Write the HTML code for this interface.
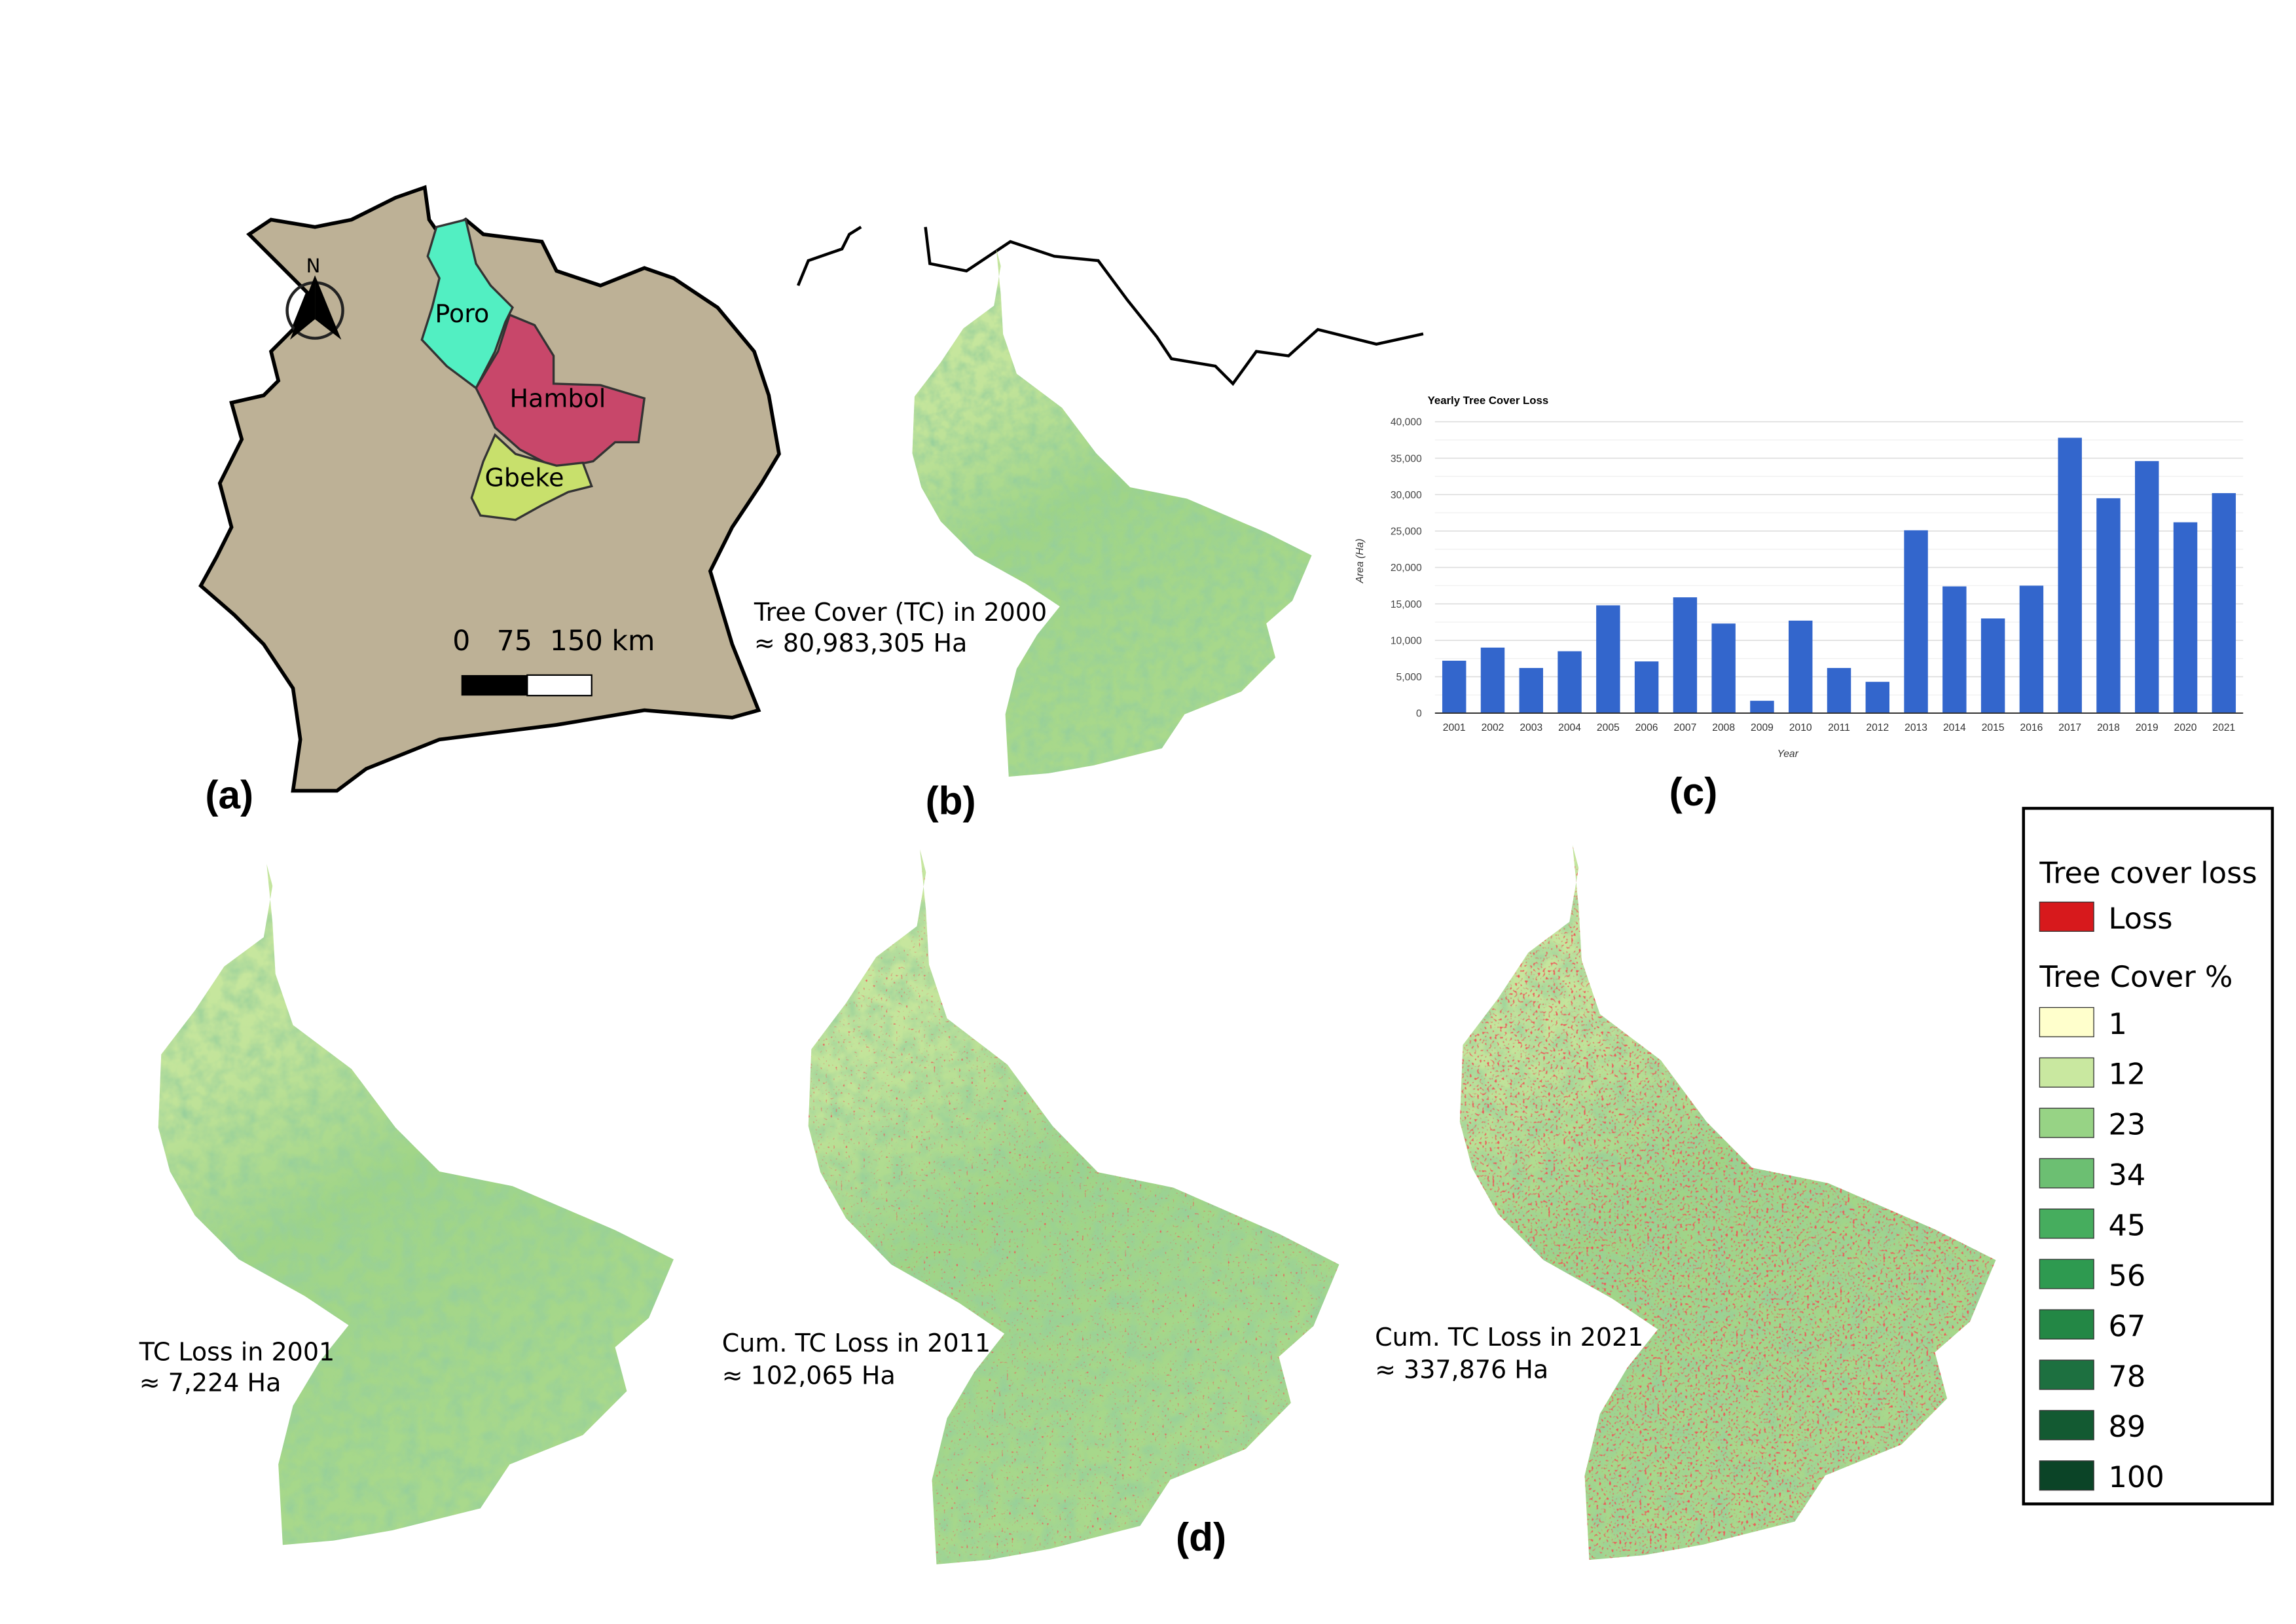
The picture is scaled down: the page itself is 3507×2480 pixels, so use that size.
<!DOCTYPE html>
<html><head><meta charset="utf-8"><style>
html,body{margin:0;padding:0;background:#fff}
svg{display:block}
text{font-family:"DejaVu Sans","Liberation Sans",sans-serif}
.ct{font-family:"Liberation Sans",sans-serif}
</style></head><body>
<svg id="root" width="3507" height="2480" viewBox="0 0 1568 1109" xmlns="http://www.w3.org/2000/svg">
<defs>
<filter id="tex" x="0" y="0" width="1" height="1">
<feTurbulence type="fractalNoise" baseFrequency="0.09" numOctaves="3" seed="4" result="n"/>
<feColorMatrix in="n" type="matrix" values="0 0 0 0 0.30  0 0 0 0 0.62  0 0 0 0 0.33  1.6 0 0 0 -0.55" result="dk"/>
<feComposite in="dk" in2="SourceGraphic" operator="in" result="dk2"/>
<feMerge><feMergeNode in="SourceGraphic"/><feMergeNode in="dk2"/></feMerge>
</filter>
<filter id="loss1" x="0" y="0" width="1" height="1">
<feTurbulence type="fractalNoise" baseFrequency="0.6" numOctaves="1" seed="9" result="n"/>
<feColorMatrix in="n" type="matrix" values="0 0 0 0 0.85  0 0 0 0 0.1  0 0 0 0 0.1  6 0 0 0 -3.9" result="r"/>
<feComposite in="r" in2="SourceGraphic" operator="in"/>
</filter>
<filter id="loss2" x="0" y="0" width="1" height="1">
<feTurbulence type="fractalNoise" baseFrequency="0.6" numOctaves="1" seed="9" result="n"/>
<feColorMatrix in="n" type="matrix" values="0 0 0 0 0.85  0 0 0 0 0.1  0 0 0 0 0.1  6 0 0 0 -3.4" result="r"/>
<feComposite in="r" in2="SourceGraphic" operator="in"/>
</filter>
<path id="reg" d="M74,0 L78,15 L72,50 L45,70 L25,100 L2,130 L0,180 L8,210 L25,240 L55,270 L100,295 L130,315 L110,340 L92,370 L82,410 L85,465 L120,462 L160,455 L220,440 L240,410 L290,390 L320,360 L312,330 L335,310 L352,270 L312,250 L242,220 L192,210 L162,180 L132,140 L92,110 L80,75 L78,40 Z"/>
<linearGradient id="gr" x1="0" y1="0" x2="0.4" y2="1">
<stop offset="0" stop-color="#cde9a3"/><stop offset="0.3" stop-color="#c2e49a"/><stop offset="0.55" stop-color="#9fd487"/><stop offset="1" stop-color="#a9d98c"/>
</linearGradient>
</defs>

<g>
<path fill="#bdb196" stroke="#000" stroke-width="2.5" d="M200,540 L205,505 L200,470 L180,440 L160,420 L137,400 L148,380 L158,360 L150,330 L165,300 L158,275 L180,270 L190,260 L185,240 L200,225 L210,200 L190,180 L170,160 L185,150 L215,155 L240,150 L270,135 L290,128 L293,150 L300,160 L318,150 L330,160 L370,165 L380,185 L410,195 L440,183 L460,190 L490,210 L515,240 L525,270 L532,310 L520,330 L500,360 L485,390 L500,440 L518,485 L500,490 L440,485 L380,495 L300,505 L250,525 L230,540 Z"/>
<path fill="#52efc2" stroke="#333" stroke-width="1.5" d="M298,155 L318,150 L325,180 L335,195 L350,210 L345,220 L338,240 L325,265 L305,250 L288,232 L295,210 L300,190 L292,175 Z"/>
<path fill="#c8476a" stroke="#333" stroke-width="1.5" d="M325,265 L340,240 L348,215 L365,222 L378,243 L378,262 L410,263 L440,272 L436,302 L420,302 L405,315 L380,320 L355,307 L338,292 L330,275 Z"/>
<path fill="#c8e06c" stroke="#333" stroke-width="1.5" d="M338,297 L352,310 L380,318 L398,316 L404,332 L388,336 L370,345 L352,355 L328,352 L322,340 L330,315 Z"/>
<text x="297" y="220" font-size="17">Poro</text>
<text x="348" y="278" font-size="17">Hambol</text>
<text x="331" y="332" font-size="17">Gbeke</text>
<g>
<circle cx="215" cy="212" r="19" fill="none" stroke="#222" stroke-width="2"/>
<path d="M215,188 L198,232 L215,218 Z" fill="#000"/><path d="M215,188 L233,232 L215,218 Z" fill="#000"/>
<text x="209" y="186" font-size="13">N</text>
</g>
<text x="309" y="444" font-size="19">0 &#160;&#160;75 &#160;150 km</text>
<rect x="315" y="461" width="45" height="14" fill="#000"/>
<rect x="360" y="461" width="44" height="14" fill="#fff" stroke="#000" stroke-width="1"/>
</g>
<text x="140" y="552" font-size="27" font-weight="bold" class="ct">(a)</text>

<g fill="none" stroke="#000" stroke-width="2">
<path d="M545,195 L552,178 L575,170 L580,160 L588,155"/>
<path d="M632,155 L635,180 L660,185 L690,165 L720,175 L750,178 L770,205 L790,230 L800,245 L830,250 L842,262 L858,240 L880,243 L900,225 L940,235 L972,228"/>
</g>
<g transform="translate(623,170) scale(0.775)">
<use href="#reg" fill="url(#gr)" filter="url(#tex)"/>
</g>
<text x="515" y="424" font-size="17">Tree Cover (TC) in 2000</text>
<text x="515" y="445" font-size="17">≈ 80,983,305 Ha</text>
<text x="632" y="556" font-size="27" font-weight="bold" class="ct">(b)</text>

<g id="chart">
<text x="975" y="276" font-size="7.5" font-weight="bold" class="ct">Yearly Tree Cover Loss</text>
<text x="1221" y="517" font-size="7" font-style="italic" text-anchor="middle" fill="#333" class="ct">Year</text>
<text transform="translate(931,383) rotate(-90)" font-size="7" font-style="italic" text-anchor="middle" fill="#333" class="ct">Area (Ha)</text>
</g>
<text x="1140" y="550" font-size="27" font-weight="bold" class="ct">(c)</text>

<g transform="translate(108,590)">
<use href="#reg" fill="url(#gr)" filter="url(#tex)"/>
</g>
<g transform="translate(552,580) scale(1.03,1.05)">
<use href="#reg" fill="url(#gr)" filter="url(#tex)"/>
<use href="#reg" fill="#000" filter="url(#loss1)"/>
</g>
<g transform="translate(997,577) scale(1.04,1.05)">
<use href="#reg" fill="url(#gr)" filter="url(#tex)"/>
<use href="#reg" fill="#000" filter="url(#loss2)"/>
</g>
<text x="95" y="929" font-size="17">TC Loss in 2001</text>
<text x="95" y="950" font-size="17">≈ 7,224 Ha</text>
<text x="493" y="923" font-size="17">Cum. TC Loss in 2011</text>
<text x="493" y="945" font-size="17">≈ 102,065 Ha</text>
<text x="939" y="919" font-size="17">Cum. TC Loss in 2021</text>
<text x="939" y="941" font-size="17">≈ 337,876 Ha</text>
<text x="803" y="1059" font-size="27" font-weight="bold" class="ct">(d)</text>

<g id="legend">
<rect x="1382" y="552" width="170" height="475" fill="#fff" stroke="#000" stroke-width="2"/>
<text x="1393" y="603" font-size="20">Tree cover loss</text>
<rect x="1393" y="616" width="37" height="20" fill="#d7191c" stroke="#333" stroke-width="0.6"/>
<text x="1440" y="634" font-size="20">Loss</text>
<text x="1393" y="674" font-size="20">Tree Cover %</text>
</g>
</svg>
<script>
var years=["2001","2002","2003","2004","2005","2006","2007","2008","2009","2010","2011","2012","2013","2014","2015","2016","2017","2018","2019","2020","2021"];
var lossHa=[7200,9000,6200,8500,14800,7100,15900,12300,1700,12700,6200,4300,25100,17400,13000,17500,37800,29500,34600,26200,30200];
var yTicks=[0,5000,10000,15000,20000,25000,30000,35000,40000];
var yTickLabels=["0","5,000","10,000","15,000","20,000","25,000","30,000","35,000","40,000"];
var legendLabels=["1","12","23","34","45","56","67","78","89","100"];
var legendColors=["#ffffcc","#c9e8a0","#97d385","#6cbf72","#46ad5e","#2e9a50","#238745","#1d7040","#135a32","#0b4427"];

var NS="http://www.w3.org/2000/svg";
var chart=document.getElementById("chart");
var PL=980,PR=1532,PT=288,PB=487,YMAX=40000;
function ys(v){return PB-(v/YMAX)*(PB-PT);}
function xs(i){var step=(PR-PL)/years.length;return PL+step*(i+0.5);}
function mk(tag,attrs,parent){var e=document.createElementNS(NS,tag);for(var a in attrs){e.setAttribute(a,attrs[a]);}parent.appendChild(e);return e;}
for(var i=0;i<yTicks.length;i++){
  var g=mk("line",{x1:PL,x2:PR,y1:ys(yTicks[i]),y2:ys(yTicks[i]),stroke:"#ddd","stroke-width":0.7},chart);
  
  
  if(i<yTicks.length-1){
    var m=mk("line",{x1:PL,x2:PR,y1:ys(yTicks[i]+2500),y2:ys(yTicks[i]+2500),stroke:"#f0f0f0","stroke-width":0.6},chart);
    
    
  }
  var t=mk("text",{x:PL-9,y:ys(yTicks[i])+2.5,"font-size":7,"text-anchor":"end",fill:"#444","class":"ct"},chart);
  t.textContent=yTickLabels[i];
  
  
}
var bw=(PR-PL)/years.length*0.62;
for(var j=0;j<years.length;j++){
  var b=mk("rect",{x:xs(j)-bw/2,y:ys(lossHa[j]),width:bw,height:PB-ys(lossHa[j]),fill:"#3366cc"},chart);
  
  
  var xl=mk("text",{x:xs(j),y:PB+12,"font-size":7,"text-anchor":"middle",fill:"#333","class":"ct"},chart);
  xl.textContent=years[j];
  
  
}
var ax=mk("line",{x1:PL,x2:PR,y1:PB,y2:PB,stroke:"#333","stroke-width":0.9},chart);



var lg=document.getElementById("legend");
for(var k=0;k<legendLabels.length;k++){
  var y0=688+k*34.4;
  var s=mk("rect",{x:1393,y:y0,width:37,height:20,fill:legendColors[k],stroke:"#333","stroke-width":0.6},lg);
  
  
  var lt=mk("text",{x:1440,y:y0+18,"font-size":20},lg);
  lt.textContent=legendLabels[k];
  
  
}
</script>
</body></html>
